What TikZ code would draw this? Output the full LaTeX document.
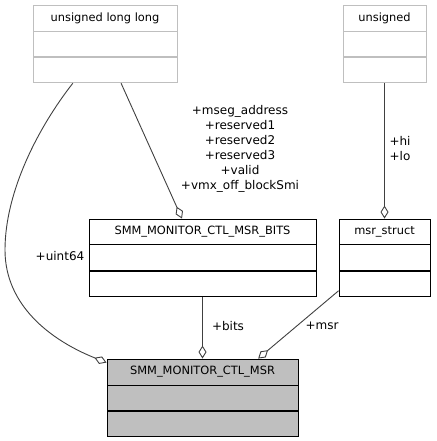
\documentclass[tikz,border=0pt]{standalone}
\usepackage{fontspec}
\setmainfont{DejaVu Sans}
\usetikzlibrary{arrows.meta,calc}
\definecolor{edgecol}{HTML}{404040}
\definecolor{lightbox}{HTML}{BFBFBF}
\definecolor{mainfill}{HTML}{BFBFBF}
\tikzset{
  cls/.style={draw=black, line width=0.9pt, inner sep=0pt, font=\fontsize{11.4}{14}\selectfont},
  extcls/.style={cls, draw=lightbox},
  lbl/.style={font=\fontsize{12}{15}\selectfont, align=center, inner sep=0pt},
  agg/.style={draw=edgecol, line width=0.9pt, -{Diamond[open,length=13pt,width=8pt]}},
}
\begin{document}
\begin{tikzpicture}[x=1pt,y=-1pt]
\useasboundingbox (0,0) rectangle (436,441);
% unsigned long long
\node[extcls, minimum width=144pt, minimum height=26pt] (ull) at (105,18) {unsigned long long};
\node[extcls, minimum width=144pt, minimum height=25pt, anchor=north] (ull2) at (ull.south) {};
\node[extcls, minimum width=144pt, minimum height=25pt, anchor=north] (ull3) at (ull2.south) {};
% unsigned
\node[extcls, minimum width=83pt, minimum height=26pt] (uns) at (384.5,18) {unsigned};
\node[extcls, minimum width=83pt, minimum height=25pt, anchor=north] (uns2) at (uns.south) {};
\node[extcls, minimum width=83pt, minimum height=25pt, anchor=north] (uns3) at (uns2.south) {};
% SMM_MONITOR_CTL_MSR_BITS
\node[cls, minimum width=227pt, minimum height=25pt] (bits) at (202.5,231.5) {SMM\_MONITOR\_CTL\_MSR\_BITS};
\node[cls, minimum width=227pt, minimum height=26pt, anchor=north] (bits2) at (bits.south) {};
\node[cls, minimum width=227pt, minimum height=25pt, anchor=north] (bits3) at (bits2.south) {};
% msr_struct
\node[cls, minimum width=91pt, minimum height=25pt] (ms) at (384.5,231.5) {msr\_struct};
\node[cls, minimum width=91pt, minimum height=26pt, anchor=north] (ms2) at (ms.south) {};
\node[cls, minimum width=91pt, minimum height=25pt, anchor=north] (ms3) at (ms2.south) {};
% SMM_MONITOR_CTL_MSR
\node[cls, fill=mainfill, minimum width=191pt, minimum height=26pt] (main) at (202.5,372) {SMM\_MONITOR\_CTL\_MSR};
\node[cls, fill=mainfill, minimum width=191pt, minimum height=25pt, anchor=north] (main2) at (main.south) {};
\node[cls, fill=mainfill, minimum width=191pt, minimum height=25pt, anchor=north] (main3) at (main2.south) {};
% edges
\coordinate (c1) at ($(ull3.south west)!0.278!(ull3.south east)$);
\coordinate (c2) at ($(ull3.south west)!0.611!(ull3.south east)$);
\coordinate (m1) at ($(main.north west)!0.3!(main.west)$);
\draw[agg] (c1) .. controls (40,125) and (5,190) .. (5,250) .. controls (5,305) and (50,340) .. (m1);
\draw[agg] (c2) -- ($(bits.north west)!0.41!(bits.north east)$);
\draw[agg] (uns3.south) -- (ms.north);
\draw[agg] (bits3.south) -- (main.north);
\draw[agg] ($(ms3.south west)!0.5!(ms3.west)$) -- ($(main.north west)!0.79!(main.north east)$);
% labels
\node[lbl] (l1) at (60,256) {+uint64};
\node[lbl] (l2) at (240,149) {+mseg\_address\\+reserved1\\+reserved2\\+reserved3\\+valid\\+vmx\_off\_blockSmi};
\node[lbl] (l3) at (400,149) {+hi\\+lo};
\node[lbl] (l4) at (228,326) {+bits};
\node[lbl] (l5) at (322,326) {+msr};
\end{tikzpicture}
\end{document}
